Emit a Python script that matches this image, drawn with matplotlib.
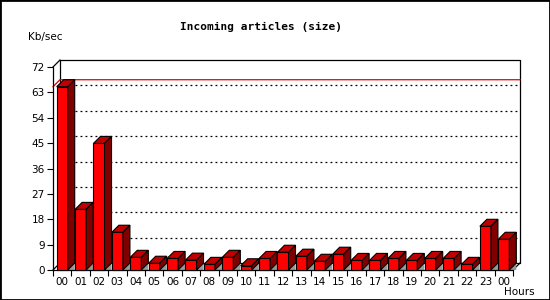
import matplotlib
matplotlib.use('Agg')
import matplotlib.pyplot as plt
from matplotlib.patches import Polygon, Rectangle

# valeurs (Kb/sec par heure)
hours = ['00', '01', '02', '03', '04', '05', '06', '07', '08', '09', '10', '11',
         '12', '13', '14', '15', '16', '17', '18', '19', '20', '21', '22', '23', '00']
kbsec = [65.0, 21.5, 44.9, 13.4, 4.5, 2.4, 4.1, 3.5, 2.0, 4.5, 1.5, 4.1,
         6.3, 4.9, 3.1, 5.6, 3.4, 3.4, 4.1, 3.4, 4.1, 4.1, 2.0, 15.5, 10.9]
y_ticks = [0, 9, 18, 27, 36, 45, 54, 63, 72]

W, H = 550, 300
fig = plt.figure(figsize=(W / 100, H / 100), dpi=100)
fig.patch.set_facecolor('white')

# zone du graphique (face avant), en pixels
x0, x1, y0, y1 = 53, 513, 270, 67
ax = fig.add_axes([x0 / W, 1 - y0 / H, (x1 - x0) / W, (y0 - y1) / H])
n = len(kbsec)
ax.set_xlim(0, n)
ax.set_ylim(0, 72)
ax.patch.set_visible(False)

depth = 7  # profondeur 3D en pixels
dx = depth * n / (x1 - x0)
dy = depth * 72 / (y0 - y1)

for s in ['top', 'right']:
    ax.spines[s].set_visible(False)
for s in ['left', 'bottom']:
    ax.spines[s].set_linewidth(0.9)
    ax.spines[s].set_color('black')

ax.set_yticks(y_ticks)
ax.set_yticklabels([str(v) for v in y_ticks], fontsize=7.5, family='DejaVu Sans')
ax.tick_params(axis='y', length=4, width=0.8, pad=2)

centers = [i + 0.5 for i in range(n)]
ax.set_xticks(centers)
ax.set_xticklabels(hours, fontsize=7.5, family='DejaVu Sans')
ax.tick_params(axis='x', which='major', length=0, pad=5)
ax.set_xticks(range(n + 1), minor=True)
ax.tick_params(axis='x', which='minor', length=4, width=0.8)

# plan du fond
lk = dict(color='black', lw=0.9, clip_on=False, zorder=1)
ax.plot([dx, dx, n + dx, n + dx, dx], [dy, 72 + dy, 72 + dy, dy, dy], **lk)
ax.plot([0, dx], [72, 72 + dy], **lk)
ax.plot([0, dx], [0, dy], **lk)
ax.plot([n, n + dx], [0, dy], **lk)

# lignes de grille pointillées sur le fond
for v in y_ticks[1:-1]:
    ax.plot([dx, n + dx], [v + dy, v + dy], color='black', lw=0.9,
            linestyle=(0, (1.5, 2.5)), clip_on=False, zorder=1)

# ligne du maximum
vmax = max(kbsec)
ax.plot([0, dx, n + dx], [vmax, vmax + dy, vmax + dy], color='#e00000',
        lw=0.9, clip_on=False, zorder=1.5)

# barres 3D
bw = 0.6
for i, v in enumerate(kbsec):
    l = i + 0.2
    r = l + bw
    ek = dict(edgecolor='black', lw=0.8, clip_on=False, zorder=3)
    ax.add_patch(Polygon([(r, 0), (r + dx, dy), (r + dx, 0)], closed=True,
                         facecolor='#999999', edgecolor='none', clip_on=False, zorder=2))
    ax.add_patch(Rectangle((l, 0), bw, v, facecolor='#ff0000', **ek))
    ax.add_patch(Polygon([(l, v), (l + dx, v + dy), (r + dx, v + dy), (r, v)],
                         closed=True, facecolor='#c00000', **ek))
    ax.add_patch(Polygon([(r, 0), (r + dx, dy), (r + dx, v + dy), (r, v)],
                         closed=True, facecolor='#800000', **ek))

# textes
fig.text(261 / W, 1 - 27 / H, 'Incoming articles (size)', ha='center', va='center',
         fontsize=8, fontweight='bold', family='DejaVu Sans Mono')
fig.text(28 / W, 1 - 37 / H, 'Kb/sec', ha='left', va='center', fontsize=7.5,
         family='DejaVu Sans')
fig.text(519 / W, 1 - 292 / H, 'Hours', ha='center', va='center', fontsize=7.5,
         family='DejaVu Sans')

# cadre autour de l'image
fig.patches.append(Rectangle((0, 0), 1, 1, transform=fig.transFigure, fill=False,
                             edgecolor='black', lw=2))

fig.savefig('out.png', dpi=100)
